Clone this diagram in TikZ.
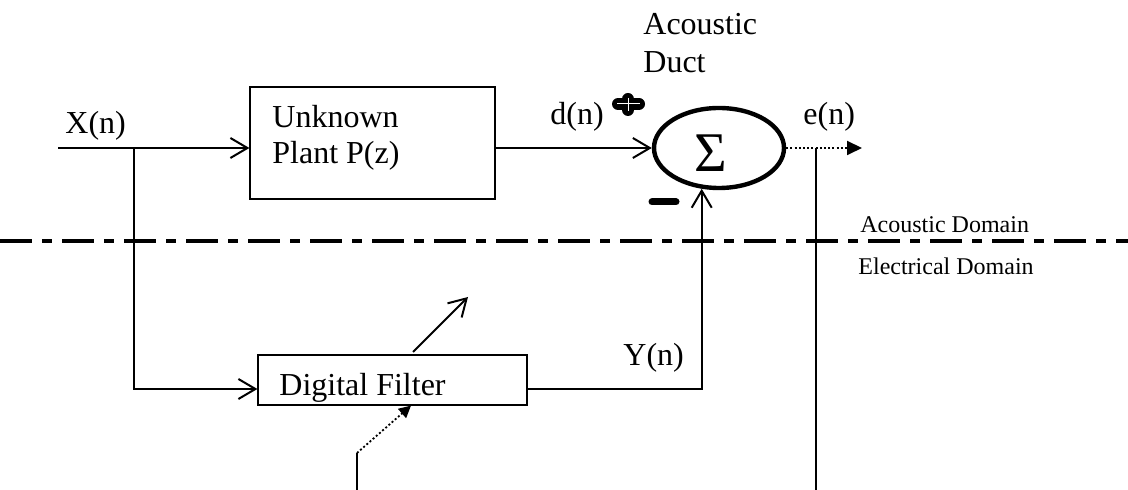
\documentclass[tikz,border=0pt]{standalone}
\usepackage{fontspec}
\setmainfont{Liberation Serif}
\usetikzlibrary{arrows.meta,shapes.geometric}

\tikzset{
  blockbox/.style={draw, line width=0.6pt, inner sep=0pt},
  sumnode/.style={draw, ellipse, line width=2.2pt, minimum width=65pt, minimum height=40pt, inner sep=0pt},
  sig/.style={line width=1pt, -{Straight Barb[length=8.5pt,width=10pt]}},
  errline/.style={line width=0.9pt, dash pattern=on 1pt off 1.1pt, -{Triangle[length=7.5pt,width=7pt]}},
  lbl/.style={anchor=base west, inner sep=0pt, font=\fontsize{16}{18}\selectfont},
  smalllbl/.style={anchor=base west, inner sep=0pt, font=\fontsize{12}{14}\selectfont},
  domainline/.style={line width=2.4pt, dash pattern=on 16pt off 5pt on 5pt off 5pt},
}

\begin{document}
\begin{tikzpicture}[x=0.5pt,y=0.5pt,yscale=-1]
\useasboundingbox (0,0) rectangle (1128,490);

%Blocks
\node (plant) [blockbox, minimum width=122.5pt, minimum height=56pt] at (372.5,143) {};
\node (filter) [blockbox, minimum width=134.5pt, minimum height=25pt] at (392.5,380) {};
\node (sigma) [sumnode] at (719,148) {};
%Coordinates
\coordinate (xin) at (58,148);
\coordinate (split) at (134,148);
\coordinate (eout) at (862,148);
\coordinate (etap) at (816,148);
\coordinate (adapt0) at (413,352);
\coordinate (adapt1) at (468,297);
\coordinate (err0) at (357,490);
\coordinate (err1) at (357,453);

%Straight Lines
\draw [sig] (xin) -- (xin -| plant.west);
%Straight Lines
\draw [sig] (split) -- (split |- 0,389) -- (filter.west |- 0,389);
%Straight Lines
\draw [sig] (plant.east |- sigma.west) -- (sigma.west);
%Straight Lines
\draw [sig] (filter.east |- 0,389) -| (sigma.247);
%Straight Lines
\draw [errline] (sigma.east) -- (eout);
%Straight Lines
\draw [line width=0.9pt] (etap) -- (etap |- 0,490);
%Straight Lines
\draw [sig] (adapt0) -- (adapt1);
%Straight Lines
\draw [line width=0.9pt] (err0) -- (err1);
\draw [line width=0.9pt, dash pattern=on 1pt off 1.1pt, -{Triangle[length=6pt,width=6pt]}] (err1) -- (filter.south -| 411,0);
%Domain border
\draw [domainline] (0,241) -- (1128,241);

%Plus sign
\draw [line width=6pt, line cap=round] (618,104) -- (639,104) (628,99) -- (628,110);
\draw [line width=0.5pt, white] (617,104) -- (640,104) (628,98) -- (628,111);
%Minus sign
\draw [line width=3.5pt, line cap=round] (652,202) -- (676,202);

% Text Node
\node (sumsym) [inner sep=0pt, font=\fontsize{28}{30}\selectfont] at (711,153) {Σ};
% Text Node
\node (xlbl) [lbl] at (65,134) {X(n)};
% Text Node
\node (plantlbl1) [lbl] at (272,128) {Unknown};
% Text Node
\node (plantlbl2) [lbl] at (272,164) {Plant P(z)};
% Text Node
\node (dlbl) [lbl] at (550,125) {d(n)};
% Text Node
\node (ductlbl1) [lbl] at (643,35) {Acoustic};
% Text Node
\node (ductlbl2) [lbl] at (643,73) {Duct};
% Text Node
\node (elbl) [lbl] at (803,125) {e(n)};
% Text Node
\node (ylbl) [lbl] at (623,366) {Y(n)};
% Text Node
\node (filterlbl) [lbl] at (279,396) {Digital Filter};
% Text Node
\node (acdom) [smalllbl] at (860,233) {Acoustic Domain};
% Text Node
\node (eldom) [smalllbl] at (858,275) {Electrical Domain};

\end{tikzpicture}
\end{document}
